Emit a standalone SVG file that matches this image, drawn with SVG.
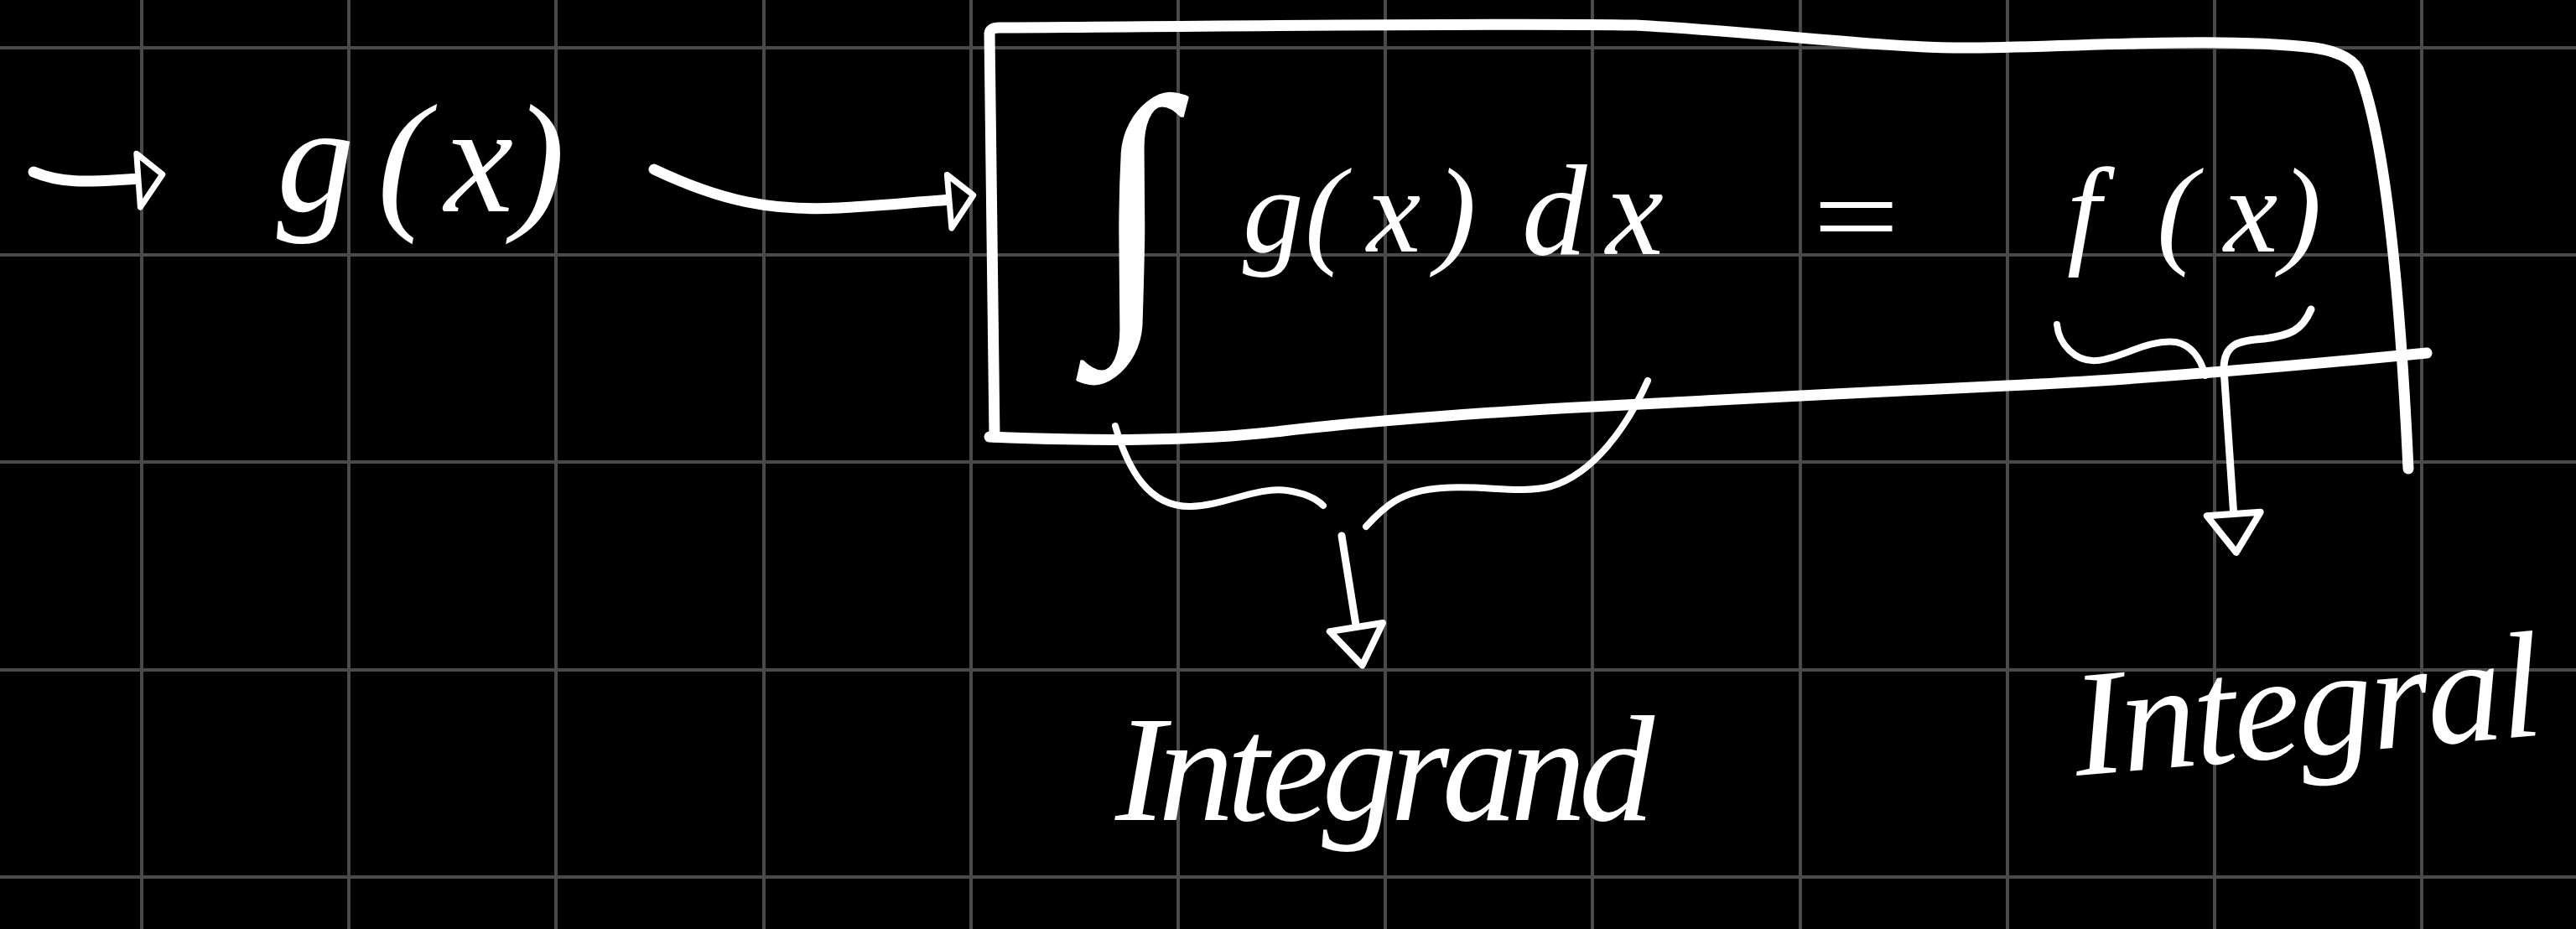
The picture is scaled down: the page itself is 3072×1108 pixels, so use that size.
<svg xmlns="http://www.w3.org/2000/svg" width="3072" height="1108" viewBox="0 0 3072 1108">
<style>
.grid line{stroke:#4a4a4a;stroke-width:4}
.ink{fill:none;stroke:#fff;stroke-linecap:round;stroke-linejoin:round}
.hand{fill:#fff;font-family:"Liberation Serif","DejaVu Serif",serif;font-style:italic}
</style>
<defs>
<marker id="tri" markerUnits="userSpaceOnUse" markerWidth="90" markerHeight="90" viewBox="-15 -45 90 90" refX="0" refY="0" orient="auto" overflow="visible">
<path d="M-4,-32 L42,0 L-4,32 Z" fill="#000" stroke="#fff" stroke-width="8" stroke-linejoin="round"/>
</marker>
<marker id="triS" markerUnits="userSpaceOnUse" markerWidth="60" markerHeight="90" viewBox="-10 -45 60 90" refX="0" refY="0" orient="auto" overflow="visible">
<path d="M-6,-30 L24,-4 L-4,34 Z" fill="#000" stroke="#fff" stroke-width="7" stroke-linejoin="round"/>
</marker>
</defs>
<rect width="3072" height="1108" fill="#000"/>
<g class="grid">
<line x1="169" y1="0" x2="169" y2="1108"/><line x1="416" y1="0" x2="416" y2="1108"/><line x1="663" y1="0" x2="663" y2="1108"/><line x1="911" y1="0" x2="911" y2="1108"/><line x1="1158" y1="0" x2="1158" y2="1108"/><line x1="1405" y1="0" x2="1405" y2="1108"/><line x1="1652" y1="0" x2="1652" y2="1108"/><line x1="1899" y1="0" x2="1899" y2="1108"/><line x1="2147" y1="0" x2="2147" y2="1108"/><line x1="2394" y1="0" x2="2394" y2="1108"/><line x1="2641" y1="0" x2="2641" y2="1108"/><line x1="2888" y1="0" x2="2888" y2="1108"/>
<line x1="0" y1="57" x2="3072" y2="57"/><line x1="0" y1="304" x2="3072" y2="304"/><line x1="0" y1="551" x2="3072" y2="551"/><line x1="0" y1="799" x2="3072" y2="799"/><line x1="0" y1="1046" x2="3072" y2="1046"/>
</g>
<g id="input">
<text class="hand" x="330 450 530 612" y="252" font-size="185">g(x)</text>
</g>
<g id="box">
<path class="ink" stroke-width="13" d="M1186,521 L1180,40 Q1181,33 1192,33 C1500,31 1800,27 1950,30 C2100,38 2250,58 2350,57 C2500,55 2650,44 2760,57 Q2800,63 2812,82 C2840,150 2860,300 2872,559"/>
<path class="ink" stroke-width="13" d="M1180,521 C1300,526 1420,527 1530,514 S1800,490 1899,485 S2250,466 2393,460 S2700,440 2894,421"/>
<text class="hand" x="1302" y="364" font-size="356">∫</text>
<text class="hand" x="1482 1556 1630 1712" y="300" font-size="145">g(x)</text>
<text class="hand" x="1815 1915" y="303" font-size="155">dx</text>
<text class="hand" x="2150" y="305" font-size="140" textLength="124" lengthAdjust="spacingAndGlyphs">=</text>
<text class="hand" x="2465 2572 2652 2720" y="300" font-size="145">f(x)</text>
</g>
<g id="integrand">
<text class="hand" x="1330" y="978" font-size="180" textLength="643" lengthAdjust="spacing">Integrand</text>
</g>
<g id="integral">
<text class="hand" x="2477" y="925" font-size="180" textLength="560" lengthAdjust="spacing" transform="rotate(-5 2477 925)">Integral</text>
</g>
<g id="connectors">
<path class="ink" stroke-width="13" d="M40,205 C80,222 120,215 170,213" marker-end="url(#triS)"/>
<path class="ink" stroke-width="13" d="M780,202 C860,240 920,252 1000,248 C1060,245 1100,240 1137,238" marker-end="url(#triS)"/>
<path class="ink" stroke-width="8" d="M1330,508 C1345,560 1370,605 1420,604 C1460,603 1500,580 1535,585 C1555,588 1570,595 1578,603"/>
<path class="ink" stroke-width="8" d="M1629,628 C1650,605 1670,585 1720,582 C1770,578 1810,590 1850,580 C1900,565 1940,510 1965,454"/>
<path class="ink" stroke-width="9" d="M1600,639 L1618,752" marker-end="url(#tri)"/>
<path class="ink" stroke-width="8" d="M2453,387 C2455,410 2475,432 2500,430 C2530,428 2560,404 2595,408 C2615,412 2625,430 2630,448"/>
<path class="ink" stroke-width="9" d="M2756,369 C2745,395 2730,400 2700,404 C2670,406 2652,410 2652,440 L2664,617" marker-end="url(#tri)"/>
</g>
</svg>
